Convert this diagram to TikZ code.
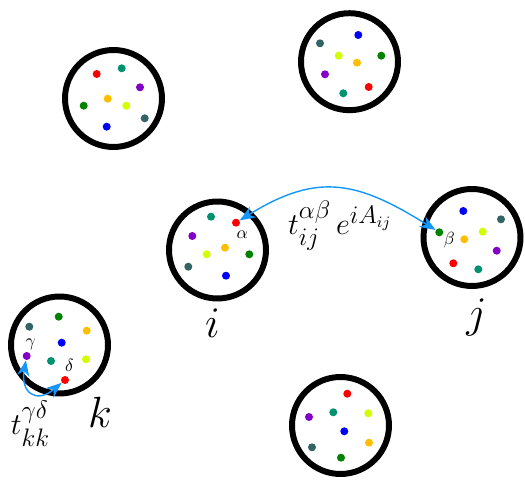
\documentclass[tikz,border=0pt]{standalone}
\usepackage{amsmath,amssymb}
\usepackage{tikz}
\usetikzlibrary{arrows.meta, positioning}
\usepackage{xcolor}
\definecolor{cred}{RGB}{255,0,0}
\definecolor{cteal}{RGB}{0,145,110}
\definecolor{cpurple}{RGB}{130,0,200}
\definecolor{corange}{RGB}{255,190,0}
\definecolor{clime}{RGB}{210,255,0}
\definecolor{cgreen}{RGB}{0,130,0}
\definecolor{cslate}{RGB}{50,100,100}
\definecolor{cblue}{RGB}{0,0,255}
\definecolor{hopblue}{RGB}{20,150,255}

\begin{document}
\begin{tikzpicture}[x=0.02cm, y=0.02cm,
  site/.style={circle, draw=black, line width=3.4pt, minimum size=1.94cm, inner sep=0pt},
  orb/.style={circle, inner sep=0pt, minimum size=0.16cm},
  hop/.style={{Stealth[length=9pt,width=7pt,inset=3pt]}-{Stealth[length=9pt,width=7pt,inset=3pt]}, hopblue, line width=0.8pt}]
  \useasboundingbox (0,0) rectangle (525,481);
  % sites
  \node[site] (a) at (113.5,382.5) {};
  \node[site] (b) at (349.5,419.3) {};
  \node[site] (c) at (340.5,55.5) {};
  \node[site] (i) at (217.5,231) {};
  \node[site] (j) at (472,243.5) {};
  \node[site] (k) at (59.5,136) {};
  % orbitals
  \foreach \c/\x/\y in {cred/96.7/407, cteal/121.7/412.7, cpurple/140/393.7, corange/107.7/382.3,
      cgreen/83.7/375.3, clime/126.3/375.3, cslate/144.7/362.7, cblue/106.7/354.3} {
    \node[orb, fill=\c] (a-\c) at (\x,\y) {};
  }
  \foreach \c/\x/\y in {cslate/320/437.7, cblue/358.3/446, clime/338.7/425.3, cgreen/381.3/425.3,
      corange/357/418.3, cpurple/325/406.7, cred/368.7/394, cteal/343.3/387.7} {
    \node[orb, fill=\c] (b-\c) at (\x,\y) {};
  }
  \foreach \c/\x/\y in {cred/347.3/87.3, cteal/333.3/68.7, clime/368.3/67.7, cpurple/309/64,
      cblue/344.3/49.7, corange/369/38.3, cslate/312/33.7, cgreen/341/23.3} {
    \node[orb, fill=\c] (c-\c) at (\x,\y) {};
  }
  \foreach \c/\x/\y in {cteal/211/264.3, cred/236/258.3, cpurple/192.3/245, corange/225/233.3,
      clime/206.7/226.7, cgreen/249.3/226.7, cslate/188.3/214.3, cblue/226/205.3} {
    \node[orb, fill=\c] (i-\c) at (\x,\y) {};
  }
  \foreach \c/\x/\y in {cblue/463.3/270, cslate/501/261.7, cgreen/439.3/248.7, clime/482.7/249.3,
      corange/464.3/241.7, cpurple/496.7/230.3, cred/453.3/217.7, cteal/478.3/211.7} {
    \node[orb, fill=\c] (j-\c) at (\x,\y) {};
  }
  \foreach \c/\x/\y in {cslate/29.3/154.3, cgreen/58.7/164.3, corange/86.7/150.3, cblue/61.7/138.3,
      cpurple/26.7/125, cteal/51/120, clime/86/121.7, cred/65/101} {
    \node[orb, fill=\c] (k-\c) at (\x,\y) {};
  }
  % orbital labels
  \node (alpha) at (242.3,246) {$\alpha$};
  \node (beta) at (449.3,241) {$\beta$};
  \node (gamma) at (30.7,136.7) {$\gamma$};
  \node (delta) at (69.3,116) {$\delta$};
  % site labels
  \node[font=\Huge] (labi) at (212.5,158) {$i$};
  \node[font=\Huge] (labj) at (476.5,163.5) {$j$};
  \node[font=\Huge] (labk) at (100,68.5) {$k$};
  % hoppings
  \draw[hop] (i-cred) to[out=32, in=148, looseness=1.2] (j-cgreen);
  \draw[hop] (k-cpurple) to[out=-100, in=220, looseness=2] (k-cred);
  \node[font=\fontsize{19}{22}\selectfont] (hopij) at (340,255) {$t_{ij}^{\alpha\beta}\,e^{iA_{ij}}$};
  \node[font=\fontsize{19}{22}\selectfont] (hopkk) at (30.5,57) {$t_{kk}^{\gamma\delta}$};
\end{tikzpicture}
\end{document}
